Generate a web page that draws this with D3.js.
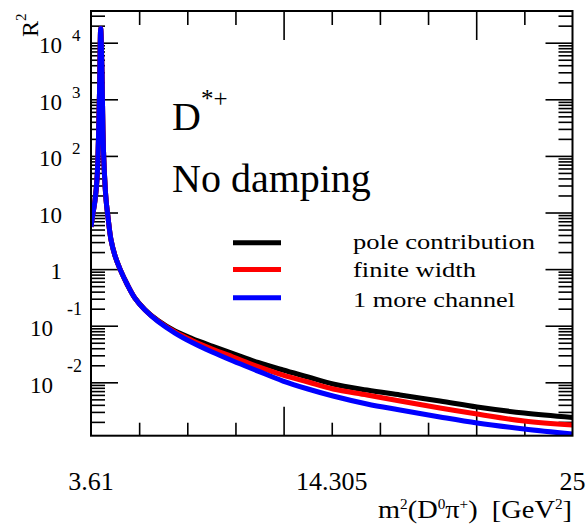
<!DOCTYPE html>
<html>
<head>
<meta charset="utf-8">
<script src="https://cdn.jsdelivr.net/npm/d3@7"></script>
<style>
  body { margin: 0; background: #fff; }
</style>
</head>
<body>
<div id="container"></div>
<script>
// m^2(D0 pi+) in GeV^2, shared by the three curves
const massSq = [3.61, 3.70, 3.79, 3.88, 3.94, 3.99, 4.04, 4.10, 4.14, 4.19, 4.28, 4.37,
  4.50, 4.68, 4.90, 5.21, 5.56, 6.01, 6.59, 7.34, 8.10, 8.99, 9.92, 11.03, 12.14,
  13.25, 14.36, 15.87, 17.34, 19.11, 20.76, 22.85, 25.0];

// R^2 values
const poleValues = [5.6, 9.8, 16.6, 40.7, 191, 1460, 17800, 2690, 287, 69, 16.6, 8.0,
  3.27, 1.70, 1.0, 0.546, 0.308, 0.192, 0.123, 0.0805, 0.0594, 0.0438, 0.0323, 0.0224,
  0.0165, 0.01242, 0.00933, 0.00731, 0.00597, 0.00468, 0.00366, 0.00287, 0.00239];
const finiteValues = [5.6, 9.8, 16.6, 40.7, 191, 1460, 17800, 2690, 287, 69, 16.6, 8.0,
  3.27, 1.70, 1.0, 0.546, 0.308, 0.190, 0.121, 0.0774, 0.0548, 0.0387, 0.0280, 0.0190,
  0.01346, 0.01012, 0.00762, 0.00597, 0.00468, 0.00352, 0.00275, 0.00207, 0.00176];
const channelValues = [5.6, 9.8, 16.6, 40.7, 191, 1460, 17800, 2690, 287, 69, 16.6, 8.0,
  3.27, 1.70, 1.0, 0.546, 0.308, 0.189, 0.1186, 0.0743, 0.0505, 0.0343, 0.0238, 0.0158,
  0.01054, 0.00762, 0.00573, 0.00414, 0.00324, 0.00244, 0.00191, 0.00150, 0.00122];

const seriesNames = ['pole contribution', 'finite width', '1 more channel'];
const seriesColors = ['#000000', '#ff0000', '#0000ff'];

const xTickValues = [3.61, 14.305, 25];
const xTickLabels = ['3.61', '14.305', '25'];
const yExponents = [-2, -1, 0, 1, 2, 3, 4];

const fontFamily = '"Liberation Serif", "Times New Roman", serif';

// Parameters
const width = 586, height = 529;
const padding = { left: 91, top: 11, right: 13.5, bottom: 93.3 };
const plotW = width - padding.left - padding.right;
const plotH = height - padding.top - padding.bottom;

const xScale = d3.scaleLinear()
  .domain([3.61, 25])
  .range([0, plotW]);

const yScale = d3.scaleLog()
  .domain([Math.pow(10, -2.943), Math.pow(10, 4.56)])
  .range([plotH, 0]);

const svg = d3.select('#container').append('svg')
  .attr('width', width)
  .attr('height', height)
  .attr('font-family', fontFamily);

const canvas = svg.append('g')
  .attr('transform', `translate(${padding.left}, ${padding.top})`);

// axis ticks (all drawn inside the frame)
const yMajor = yExponents.map(e => Math.pow(10, e));
const yMinor = yScale.ticks().filter(v => !yMajor.some(m => Math.abs(m - v) / m < 1e-6));
const xAll = d3.range(11).map(i => 3.61 + i * (25 - 3.61) / 10);
const xMajor = [xAll[4], xAll[8]];
const xMinor = xAll.filter((v, i) => i !== 4 && i !== 8 && i !== 0 && i !== 10);

function tickStyle(g) {
  g.select('.domain').remove();
  g.selectAll('line').attr('stroke', '#000').attr('stroke-width', 1.6);
  g.selectAll('text').remove();
}

canvas.append('g').call(d3.axisRight(yScale).tickValues(yMinor).tickSize(14)).call(tickStyle);
canvas.append('g').call(d3.axisRight(yScale).tickValues(yMajor).tickSize(27)).call(tickStyle);
canvas.append('g').attr('transform', `translate(${plotW},0)`)
  .call(d3.axisLeft(yScale).tickValues(yMinor).tickSize(14)).call(tickStyle);
canvas.append('g').attr('transform', `translate(${plotW},0)`)
  .call(d3.axisLeft(yScale).tickValues(yMajor).tickSize(27)).call(tickStyle);

canvas.append('g').attr('transform', `translate(0,${plotH})`)
  .call(d3.axisTop(xScale).tickValues(xMinor).tickSize(13)).call(tickStyle);
canvas.append('g').attr('transform', `translate(0,${plotH})`)
  .call(d3.axisTop(xScale).tickValues(xMajor).tickSize(29)).call(tickStyle);
canvas.append('g')
  .call(d3.axisBottom(xScale).tickValues(xMinor).tickSize(14)).call(tickStyle);
canvas.append('g')
  .call(d3.axisBottom(xScale).tickValues(xMajor).tickSize(29)).call(tickStyle);

// curves
svg.append('defs').append('clipPath').attr('id', 'plot-clip')
  .append('rect').attr('width', plotW).attr('height', plotH);

const line = d3.line()
  .x(d => xScale(d[0]))
  .y(d => yScale(d[1]))
  .curve(d3.curveCatmullRom.alpha(0.5));

const series = [poleValues, finiteValues, channelValues];
canvas.append('g').attr('clip-path', 'url(#plot-clip)')
  .selectAll('path').data(series).enter().append('path')
  .attr('d', vals => line(vals.map((v, i) => [massSq[i], v])))
  .attr('fill', 'none')
  .attr('stroke', (d, i) => seriesColors[i])
  .attr('stroke-width', 5)
  .attr('stroke-linejoin', 'round');

// frame
canvas.append('rect')
  .attr('width', plotW).attr('height', plotH)
  .attr('fill', 'none').attr('stroke', '#000').attr('stroke-width', 2);

// y tick labels, ROOT style 10 + exponent
const yLabels = svg.append('g');
yExponents.forEach(e => {
  const ty = padding.top + yScale(Math.pow(10, e));
  if (e === 0 || e === 1) {
    yLabels.append('text').attr('x', 62).attr('y', ty + 10.3)
      .attr('text-anchor', 'end').attr('font-size', 23).text(e === 0 ? '1' : '10');
  } else if (e > 1) {
    yLabels.append('text').attr('x', 62).attr('y', ty + 10.3)
      .attr('text-anchor', 'end').attr('font-size', 23).text('10');
    yLabels.append('text').attr('x', 72).attr('y', ty - 1.8)
      .attr('font-size', 17).text(e);
  } else {
    yLabels.append('text').attr('x', 53).attr('y', ty + 10.3)
      .attr('text-anchor', 'end').attr('font-size', 23).text('10');
    yLabels.append('text').attr('x', 82).attr('y', ty - 10.5)
      .attr('text-anchor', 'end').attr('font-size', 18).text(e);
  }
});

// x tick labels
svg.append('g').selectAll('text').data(xTickValues).enter().append('text')
  .attr('x', d => padding.left + xScale(d))
  .attr('y', 490)
  .attr('text-anchor', 'middle')
  .attr('font-size', 26)
  .text((d, i) => xTickLabels[i]);

// x title
const xTitle = svg.append('text')
  .attr('x', 378).attr('y', 518)
  .attr('font-size', 26)
  .attr('textLength', 194)
  .attr('lengthAdjust', 'spacingAndGlyphs');
xTitle.append('tspan').text('m');
xTitle.append('tspan').attr('dy', -9).attr('font-size', 14).text('2');
xTitle.append('tspan').attr('dy', 9).text('(D');
xTitle.append('tspan').attr('dy', -9).attr('font-size', 14).text('0');
xTitle.append('tspan').attr('dy', 9).text('\u03c0');
xTitle.append('tspan').attr('dy', -9).attr('font-size', 14).text('+');
xTitle.append('tspan').attr('dy', 9).text(')\u00a0\u00a0[GeV');
xTitle.append('tspan').attr('dy', -9).attr('font-size', 14).text('2');
xTitle.append('tspan').attr('dy', 9).text(']');

// y title R^2
const yTitle = svg.append('text')
  .attr('transform', 'translate(38,37) rotate(-90)')
  .attr('font-size', 24);
yTitle.append('tspan').text('R');
yTitle.append('tspan').attr('dy', -12).attr('font-size', 15).text('2');

// annotations
svg.append('text').attr('x', 172).attr('y', 130).attr('font-size', 40).text('D');
svg.append('text').attr('x', 201).attr('y', 107).attr('font-size', 25).text('*+');
svg.append('text').attr('x', 172).attr('y', 191.7).attr('font-size', 40).text('No damping');

// legend
const legendY = [242.7, 269.5, 297.7];
const legendTextY = [249.3, 276.7, 306.5];
const legendLen = [182, 123, 162];
const legend = svg.append('g');
seriesNames.forEach((name, i) => {
  legend.append('line')
    .attr('x1', 233).attr('x2', 281)
    .attr('y1', legendY[i]).attr('y2', legendY[i])
    .attr('stroke', seriesColors[i]).attr('stroke-width', 5);
  legend.append('text')
    .attr('x', 353).attr('y', legendTextY[i])
    .attr('font-size', 22)
    .attr('textLength', legendLen[i])
    .attr('lengthAdjust', 'spacingAndGlyphs')
    .text(name);
});
</script>
</body>
</html>
